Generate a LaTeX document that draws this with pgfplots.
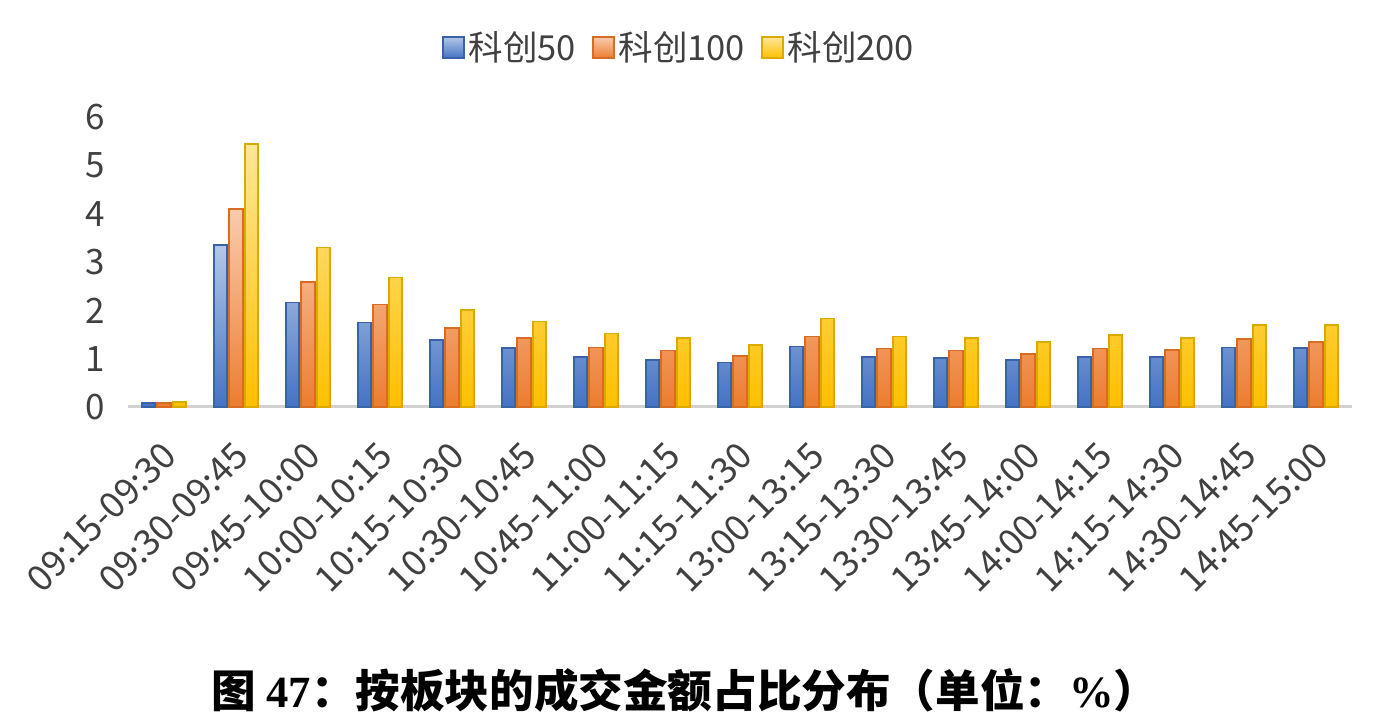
\documentclass[border=0pt]{standalone}
\usepackage{pgfplots}
\pgfplotsset{compat=1.18}
\usepackage{fontspec}
\setmainfont{Noto Sans CJK SC}
\newfontfamily\timesfont{Liberation Serif}
\definecolor{txt}{HTML}{404040}
\definecolor{bTop}{HTML}{B4C7E7}
\definecolor{bBot}{HTML}{4472C4}
\definecolor{bLine}{HTML}{3A62AA}
\definecolor{oTop}{HTML}{F8CBAD}
\definecolor{oBot}{HTML}{ED7D31}
\definecolor{oLine}{HTML}{D86C24}
\definecolor{yTop}{HTML}{FFE699}
\definecolor{yBot}{HTML}{FFC000}
\definecolor{yLine}{HTML}{D9AA00}
\pgfplotstableread{
x a b c
0 0.08 0.08 0.10
1 3.36 4.09 5.44
2 2.16 2.58 3.30
3 1.75 2.12 2.68
4 1.38 1.63 2.01
5 1.22 1.43 1.77
6 1.04 1.23 1.52
7 0.98 1.17 1.43
8 0.92 1.06 1.29
9 1.25 1.46 1.83
10 1.04 1.21 1.46
11 1.02 1.17 1.42
12 0.98 1.10 1.35
13 1.04 1.21 1.49
14 1.04 1.18 1.43
15 1.23 1.40 1.70
16 1.22 1.35 1.70
}\datatable
\begin{document}
\begin{tikzpicture}
\path[use as bounding box] (-64pt,-154.5pt) rectangle (624.5pt,203.5pt);
\begin{axis}[
  scale only axis,
  width=612pt, height=145pt,
  xmin=-0.5, xmax=16.5,
  ymin=0, ymax=6,
  ytick={0,1,2,3,4,5,6},
  xtick=data,
  xticklabels={09:15-09:30,09:30-09:45,09:45-10:00,10:00-10:15,10:15-10:30,10:30-10:45,10:45-11:00,11:00-11:15,11:15-11:30,13:00-13:15,13:15-13:30,13:30-13:45,13:45-14:00,14:00-14:15,14:15-14:30,14:30-14:45,14:45-15:00},
  axis line style={draw=none},
  major tick length=0pt,
  /pgf/number format/assume math mode=true,
  yticklabel style={font=\fontsize{17.5}{19}\selectfont, text=txt, anchor=east, xshift=-8pt},
  xticklabel style={font=\fontsize{18}{20}\selectfont, text=txt, rotate=45, anchor=north east, inner sep=0pt, xshift=-12.7pt, yshift=-9.9pt},
  legend columns=3,
  legend style={draw=none, fill=none, at={(0.451,1.238)}, anchor=center,
     font=\fontsize{17.25}{19}\selectfont, text=txt,
     /tikz/every even column/.append style={column sep=6pt},
     /tikz/every odd column/.append style={column sep=0pt}},
  legend image code/.code={\draw[#1, line width=0.8pt] (0pt,-5pt) rectangle (10.5pt,5.5pt);},
  clip=false,
]
\draw[black!18, line width=1.5pt] (rel axis cs:0,0) -- (rel axis cs:1,0);
\addplot[ybar, bar width=0.185, bar shift=-0.215, draw=bLine, line width=0.9pt, top color=bTop, bottom color=bBot] table[x=x,y=a]{\datatable};
\addplot[ybar, bar width=0.185, bar shift=0, draw=oLine, line width=0.9pt, top color=oTop, bottom color=oBot] table[x=x,y=b]{\datatable};
\addplot[ybar, bar width=0.185, bar shift=0.215, draw=yLine, line width=0.9pt, top color=yTop, bottom color=yBot] table[x=x,y=c]{\datatable};
\legend{科创50,科创100,科创200}
\end{axis}
\node[font=\fontsize{22.3}{24}\selectfont\bfseries, text=black] at (278.5pt,-141.5pt) {图 {\timesfont\bfseries 47}：按板块的成交金额占比分布（单位：{\timesfont\bfseries \%}）};
\end{tikzpicture}
\end{document}
